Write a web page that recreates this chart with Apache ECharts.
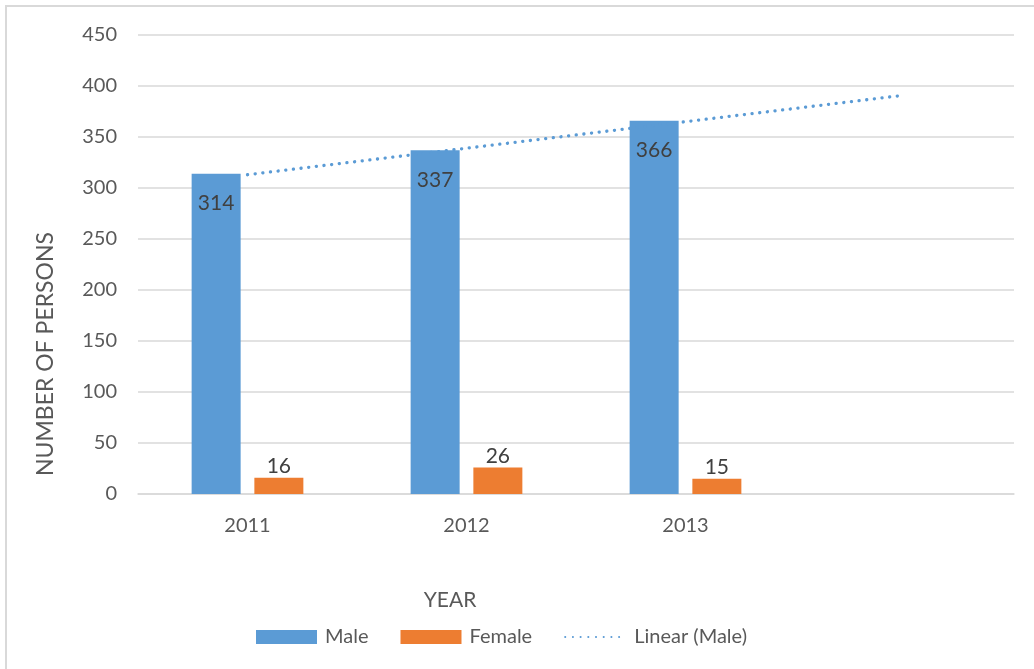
<!DOCTYPE html>
<html>
<head>
<meta charset="utf-8">
<script src="https://cdn.jsdelivr.net/npm/echarts@6/dist/echarts.min.js"></script>
<style>
html,body{margin:0;padding:0;background:#fff;}
#chart{width:1034px;height:669px;}
</style>
</head>
<body>
<div id="chart"></div>
<script>
const categories = ['2011', '2012', '2013', ''];
const maleValues = [314, 337, 366, null];
const femaleValues = [16, 26, 15, null];
const trendMale = [313, 339, 365, 391];
const yTicks = { min: 0, max: 450, interval: 50 };
const seriesNames = ['Male', 'Female', 'Linear (Male)'];
const axisTitles = { x: 'YEAR', y: 'NUMBER OF PERSONS' };

const FONT = 'Lato';
const chart = echarts.init(document.getElementById('chart'), null, { renderer: 'canvas' });
chart.setOption({
  backgroundColor: '#ffffff',
  animation: false,
  textStyle: { fontFamily: FONT },
  grid: { left: 138, right: 20, top: 35, bottom: 175, containLabel: false },
  xAxis: {
    type: 'category',
    data: categories,
    axisLine: { lineStyle: { color: '#D9D9D9', width: 1.5 } },
    axisTick: { show: false },
    axisLabel: { color: '#595959', fontSize: 20, fontFamily: FONT, margin: 22 },
    splitLine: { show: false }
  },
  yAxis: {
    type: 'value',
    min: yTicks.min, max: yTicks.max, interval: yTicks.interval,
    axisLine: { show: false },
    axisTick: { show: false },
    axisLabel: { color: '#595959', fontSize: 20, fontFamily: FONT, margin: 21 },
    splitLine: { lineStyle: { color: '#D9D9D9', width: 1.5 } }
  },
  legend: {
    left: 251, top: 622,
    itemWidth: 61, itemHeight: 14, itemGap: 32,
    textStyle: { color: '#595959', fontSize: 20, fontFamily: FONT, padding: [0, 0, 0, 3] },
    data: [
      { name: seriesNames[0], icon: 'rect' },
      { name: seriesNames[1], icon: 'rect' },
      { name: seriesNames[2], itemStyle: { color: 'rgba(0,0,0,0)', borderWidth: 0, opacity: 0 } }
    ]
  },
  graphic: [
    { type: 'line', shape: { x1: 5, y1: 6, x2: 1034, y2: 6 }, style: { stroke: '#D9D9D9', lineWidth: 2 }, silent: true },
    { type: 'line', shape: { x1: 6, y1: 5, x2: 6, y2: 669 }, style: { stroke: '#D9D9D9', lineWidth: 2 }, silent: true },
    { type: 'text', x: 450, y: 600, style: { text: axisTitles.x, fill: '#595959', font: '21px ' + FONT, textAlign: 'center', textVerticalAlign: 'middle' } },
    { type: 'text', x: 46, y: 354, rotation: Math.PI / 2, style: { text: axisTitles.y, fill: '#595959', font: '23px ' + FONT, textAlign: 'center', textVerticalAlign: 'middle' } }
  ],
  series: [
    {
      name: seriesNames[0], type: 'bar', data: maleValues,
      barWidth: 49, barGap: '28%',
      itemStyle: { color: '#5B9BD5' },
      label: { show: true, position: 'insideTop', distance: 19, color: '#404040', fontSize: 21, fontFamily: FONT }
    },
    {
      name: seriesNames[1], type: 'bar', data: femaleValues,
      barWidth: 49,
      itemStyle: { color: '#ED7D31' },
      label: { show: true, position: 'top', distance: 1, color: '#404040', fontSize: 21, fontFamily: FONT }
    },
    {
      name: seriesNames[2], type: 'line', data: trendMale,
      symbol: 'none', silent: true,
      itemStyle: { color: '#5B9BD5' },
      lineStyle: { color: '#5B9BD5', width: 3.3, type: [0.1, 7.6], cap: 'round' },
      z: 5
    }
  ]
});
</script>
</body>
</html>
